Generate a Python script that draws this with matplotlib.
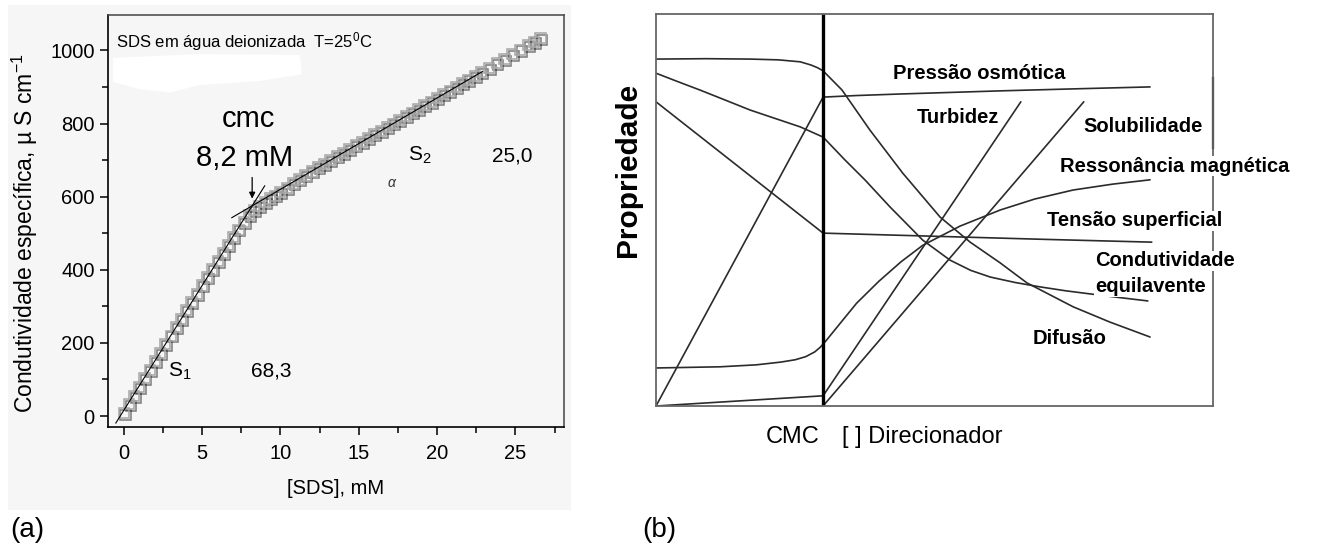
import matplotlib
matplotlib.use("Agg")
import matplotlib.pyplot as plt
import matplotlib.patheffects as pe
from matplotlib.patches import Rectangle, Polygon
from matplotlib.ticker import MultipleLocator

plt.rcParams["font.family"] = ["Liberation Sans", "DejaVu Sans"]
plt.rcParams["mathtext.fontset"] = "custom"
plt.rcParams["mathtext.rm"] = "Liberation Sans"
plt.rcParams["mathtext.it"] = "Liberation Sans:italic"
plt.rcParams["mathtext.default"] = "regular"

# --- (a) specific conductivity of SDS in deionised water, 25 C ---
sds_mM = [0.0, 0.33, 0.66, 1.0, 1.33, 1.66, 2.0, 2.33, 2.66, 3.0, 3.33, 3.66,
          4.0, 4.33, 4.66, 5.0, 5.33, 5.66, 6.0, 6.33, 6.66, 7.0, 7.33, 7.66,
          8.0, 8.33, 8.66, 9.0, 9.33, 9.66, 10.0, 10.4, 10.8, 11.2, 11.6, 12.0,
          12.4, 12.8, 13.2, 13.6, 14.0, 14.4, 14.8, 15.2, 15.6, 16.0, 16.4,
          16.8, 17.2, 17.6, 18.0, 18.4, 18.8, 19.2, 19.6, 20.0, 20.4, 20.8,
          21.2, 21.6, 22.0, 22.4, 22.8, 23.3, 23.8, 24.3, 24.8, 25.3, 25.8,
          26.2, 26.6]
kappa = [8, 32, 55, 80, 103, 126, 150, 173, 196, 220, 243, 265,
         289, 311, 334, 357, 379, 401, 424, 446, 467, 489, 510, 530,
         549, 563, 575, 586, 595, 603, 612, 624, 636, 647, 658, 669,
         680, 690, 700, 710, 720, 730, 740, 750, 760, 770, 780,
         790, 800, 810, 820, 830, 840, 850, 860, 870, 880, 890,
         900, 910, 920, 930, 940, 952, 965, 977, 990, 1002, 1015,
         1024, 1033]

S1_SLOPE = 68.3        # below the cmc
S2_SLOPE = 25.0        # above the cmc
CMC_MM = 8.2
S1_INTERCEPT = 15.0
S1_RANGE = [-0.5, 9.0]
S2_RANGE = [6.9, 22.9]

# --- (b) schematic behaviour of properties around the CMC ---
CMC_B = 3.0
pressao_x = [0.0, 3.0, 3.6, 4.4, 5.3, 6.2, 7.5, 8.87]
pressao_y = [0.0, 7.88, 7.92, 7.96, 8.0, 8.04, 8.09, 8.14]
turbidez_x = [0.0, 1.5, 3.0, 6.55]
turbidez_y = [0.0, 0.13, 0.26, 7.76]
solub_x = [3.0, 7.68]
solub_y = [0.0, 7.76]
resson_x = [0.0, 1.15, 1.8, 2.24, 2.5, 2.69, 2.85, 2.95, 3.05, 3.29, 3.6,
            4.0, 4.4, 4.79, 5.46, 6.18, 6.8, 7.49, 8.2, 8.87]
resson_y = [0.97, 1.0, 1.05, 1.12, 1.18, 1.26, 1.38, 1.5, 1.66, 2.08, 2.62,
            3.18, 3.68, 4.1, 4.59, 5.0, 5.28, 5.51, 5.66, 5.77]
tensao_x = [0.0, 3.0, 5.0, 7.0, 8.9]
tensao_y = [7.76, 4.41, 4.33, 4.25, 4.18]
condut_x = [0.0, 0.4, 0.79, 1.25, 1.69, 2.15, 2.59, 3.0, 3.39, 3.75, 4.2,
            4.79, 5.28, 5.65, 6.0, 6.45, 6.89, 7.35, 7.79, 8.3, 8.83]
condut_y = [8.49, 8.27, 8.06, 7.8, 7.55, 7.33, 7.12, 6.86, 6.28, 5.77, 5.08,
            4.23, 3.72, 3.46, 3.29, 3.15, 3.04, 2.94, 2.86, 2.77, 2.68]
difusao_x = [0.0, 0.9, 1.69, 2.2, 2.59, 2.78, 2.9, 3.0, 3.34, 3.84, 4.43,
             5.1, 5.64, 6.18, 6.66, 7.49, 8.15, 8.87]
difusao_y = [8.85, 8.86, 8.85, 8.83, 8.78, 8.7, 8.63, 8.55, 8.06, 7.04, 5.94,
             4.82, 4.18, 3.65, 3.14, 2.53, 2.14, 1.76]

curve_labels = [
    ("Pressão osmótica", 4.25, 8.49),
    ("Turbidez", 4.69, 7.37),
    ("Solubilidade", 7.67, 7.14),
    ("Ressonância magnética", 7.25, 6.12),
    ("Tensão superficial", 7.02, 4.72),
    ("Condutividade", 7.88, 3.70),
    ("equilavente", 7.88, 3.04),
    ("Difusão", 6.77, 1.73),
]

W, H = 1324, 547
BG = "#f6f6f6"

fig = plt.figure(figsize=(W / 100, H / 100), dpi=100)
fig.patch.set_facecolor("white")

# light grey card behind panel (a)
fig.patches.append(Rectangle((8 / W, 1 - 510 / H), 563 / W, 505 / H,
                             transform=fig.transFigure, facecolor=BG,
                             edgecolor="none", zorder=-5))

# ---------------- panel (a) ----------------
ax = fig.add_axes([108 / W, 1 - 427 / H, 456 / W, 412 / H])
ax.set_facecolor(BG)
ax.set_xlim(-1, 28.1)
ax.set_ylim(-30, 1097)

# white smear under the title
ax.add_patch(Polygon([(0.011, 0.896), (0.20, 0.905), (0.421, 0.903),
                      (0.425, 0.856), (0.333, 0.840), (0.202, 0.830),
                      (0.136, 0.812), (0.070, 0.820), (0.011, 0.838)],
                     closed=True, transform=ax.transAxes, facecolor="white",
                     edgecolor="none", zorder=1))

ax.plot(sds_mM, kappa, linestyle="none", marker="s", markersize=7.3,
        markerfacecolor="none", markeredgecolor="#a6a6a6",
        markeredgewidth=1.1, zorder=3,
        path_effects=[pe.SimpleLineShadow(offset=(1.3, -1.3),
                                          shadow_color="black", alpha=0.5),
                      pe.Normal()])

s2_intercept = S1_INTERCEPT + (S1_SLOPE - S2_SLOPE) * CMC_MM
ax.plot(S1_RANGE, [S1_SLOPE * x + S1_INTERCEPT for x in S1_RANGE],
        color="black", lw=0.8, zorder=4)
ax.plot(S2_RANGE, [S2_SLOPE * x + s2_intercept for x in S2_RANGE],
        color="black", lw=0.8, zorder=4)

cmc_y = S1_SLOPE * CMC_MM + S1_INTERCEPT
ax.annotate("", xy=(CMC_MM, cmc_y + 12), xytext=(CMC_MM, cmc_y + 85),
            arrowprops=dict(arrowstyle="-|>", color="black", lw=0.9,
                            mutation_scale=9), zorder=5)
ax.text(7.95, 813, "cmc", fontsize=21, ha="center", va="center")
ax.text(7.7, 707, f"{CMC_MM:.1f}".replace(".", ",") + " mM", fontsize=21,
        ha="center", va="center")

ax.text(-0.5, 1024, r"SDS em água deionizada  T=25$^0$C", fontsize=12,
        ha="left", va="center")
ax.text(3.6, 122, r"S$_1$", fontsize=15, ha="center", va="center")
ax.text(9.4, 122, f"{S1_SLOPE:.1f}".replace(".", ","), fontsize=15,
        ha="center", va="center")
ax.text(18.9, 712, r"S$_2$", fontsize=15, ha="center", va="center")
ax.text(24.8, 710, f"{S2_SLOPE:.1f}".replace(".", ","), fontsize=15,
        ha="center", va="center")
ax.text(17.1, 638, "α", fontsize=10, style="italic", color="#333333",
        ha="center", va="center")

ax.set_xlabel("[SDS], mM", fontsize=14.5, labelpad=12)
ax.set_ylabel(r"Condutividade específica, µ S cm$^{-1}$", fontsize=16.5)
ax.yaxis.set_label_coords(-0.15, 0.47)

ax.xaxis.set_major_locator(MultipleLocator(5))
ax.xaxis.set_minor_locator(MultipleLocator(2.5))
ax.yaxis.set_major_locator(MultipleLocator(200))
ax.yaxis.set_minor_locator(MultipleLocator(100))
ax.tick_params(which="both", direction="out", width=1.1, labelsize=14.5)
ax.tick_params(which="major", length=6)
ax.tick_params(which="minor", length=4)
ax.tick_params(axis="x", pad=6)
for side in ("left", "bottom"):
    ax.spines[side].set_color("black")
    ax.spines[side].set_linewidth(1.2)
for side in ("top", "right"):
    ax.spines[side].set_color("#444444")
    ax.spines[side].set_linewidth(1.1)

# ---------------- panel (b) ----------------
bx = fig.add_axes([656 / W, 1 - 406 / H, 557 / W, 392 / H])
bx.set_xlim(0, 10)
bx.set_ylim(0, 10)
bx.set_xticks([])
bx.set_yticks([])
for side in bx.spines.values():
    side.set_color("#666666")
    side.set_linewidth(1.3)

curve_style = dict(color="#2b2b2b", lw=1.2, solid_capstyle="round")
for xs, ys in [(pressao_x, pressao_y), (turbidez_x, turbidez_y),
               (solub_x, solub_y), (resson_x, resson_y),
               (tensao_x, tensao_y), (condut_x, condut_y),
               (difusao_x, difusao_y)]:
    bx.plot(xs, ys, **curve_style)

bx.axvline(CMC_B, color="black", lw=2.4)
bx.plot([10, 10], [6.58, 8.37], color="black", lw=1.6, clip_on=False)

for text, x, y in curve_labels:
    bx.text(x, y, text, fontsize=14.5, fontweight="bold", ha="left",
            va="center", zorder=6,
            bbox=dict(facecolor="white", edgecolor="none", pad=0.5))

fig.text(628 / W, 1 - 170 / H, "Propriedade", fontsize=21.5,
         fontweight="bold", rotation=90, ha="center", va="center")
fig.text(793 / W, 1 - 437 / H, "CMC", fontsize=17, ha="center",
         va="center")
fig.text(842 / W, 1 - 437 / H, "[ ] Direcionador", fontsize=17,
         ha="left", va="center")

fig.text(10 / W, 1 - 530 / H, "(a)", fontsize=20, ha="left", va="center")
fig.text(642 / W, 1 - 530 / H, "(b)", fontsize=20, ha="left", va="center")

fig.savefig("out.png", dpi=100, facecolor="white")
